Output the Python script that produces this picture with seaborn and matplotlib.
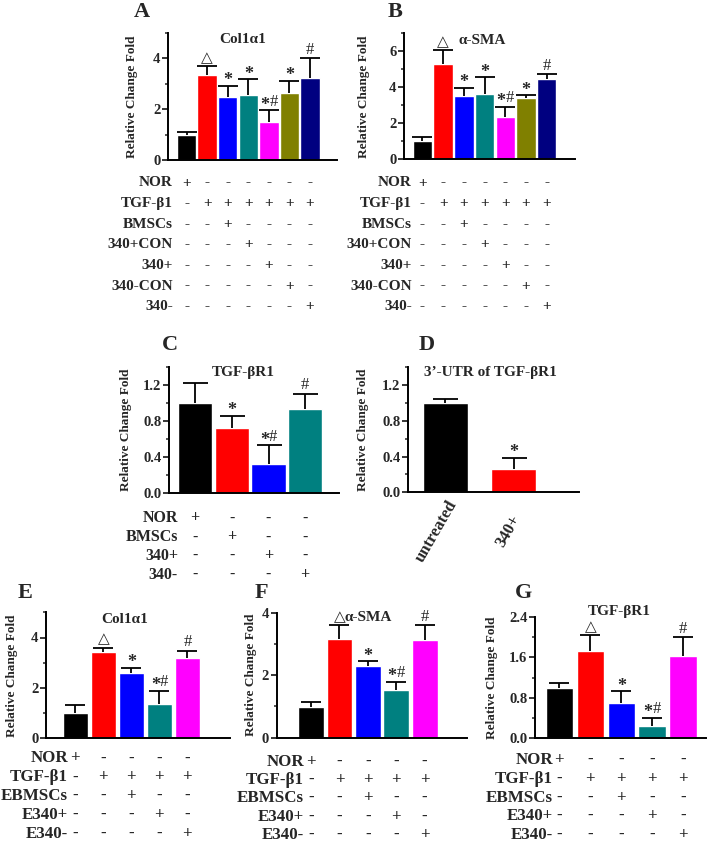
import numpy as np
import matplotlib
matplotlib.use("Agg")
import matplotlib.pyplot as plt
import seaborn as sns
from matplotlib.ticker import MultipleLocator
from matplotlib.transforms import blended_transform_factory

# ---- data ----
colors7 = ["#000000", "#ff0000", "#0000ff", "#008080", "#ff00ff", "#808000", "#000080"]

a_vals = [1.0, 3.36, 2.49, 2.57, 1.51, 2.64, 3.24]
a_errs = [0.12, 0.33, 0.44, 0.60, 0.45, 0.48, 0.76]
b_vals = [0.99, 5.30, 3.52, 3.61, 2.34, 3.39, 4.45]
b_errs = [0.26, 0.75, 0.45, 0.94, 0.58, 0.18, 0.27]
ab_marks = ["", "\u25b3", "*", "*", "*#", "*", "#"]
ab_rows = ["NOR", "TGF-\u03b21", "BMSCs", "340+CON", "340+", "340-CON", "340-"]
ab_table = [
    "+------",
    "-++++++",
    "--+----",
    "---+---",
    "----+--",
    "-----+-",
    "------+",
]

c_vals = [1.0, 0.717, 0.32, 0.94]
c_errs = [0.23, 0.14, 0.21, 0.16]
c_marks = ["", "*", "*#", "#"]
c_rows = ["NOR", "BMSCs", "340+", "340-"]
c_table = ["+---", "-+--", "--+-", "---+"]

d_labels = ["untreated", "340+"]
d_vals = [1.0, 0.26]
d_errs = [0.04, 0.125]
d_marks = ["", "*"]

e_vals = [1.0, 3.44, 2.60, 1.36, 3.17]
e_errs = [0.33, 0.16, 0.20, 0.53, 0.29]
f_vals = [0.98, 3.15, 2.29, 1.52, 3.12]
f_errs = [0.17, 0.45, 0.16, 0.27, 0.48]
g_vals = [0.985, 1.72, 0.69, 0.23, 1.63]
g_errs = [0.115, 0.32, 0.24, 0.17, 0.37]
efg_marks = ["", "\u25b3", "*", "*#", "#"]
efg_rows = ["NOR", "TGF-\u03b21", "EBMSCs", "E340+", "E340-"]
efg_table = ["+----", "-++++", "--+--", "---+-", "----+"]

# ---- figure ----
sns.set_style("ticks")
plt.rcParams["font.family"] = ["Liberation Serif", "DejaVu Sans"]
plt.rcParams["font.weight"] = "bold"

W, H = 708, 852
fig = plt.figure(figsize=(W / 100, H / 100), dpi=100)
SERIF = ["Liberation Serif", "DejaVu Sans"]


def px_axes(left, right, top, bottom):
    return fig.add_axes([left / W, 1 - bottom / H, (right - left) / W, (bottom - top) / H])


def mark(ax, sym, x, y, dx=0):
    if sym == "\u25b3":
        ax.annotate(sym, (x, y), xytext=(dx, 1), textcoords="offset points",
                    ha="center", va="bottom", fontsize=11, family=["DejaVu Sans"],
                    fontweight="normal")
    elif sym == "*":
        ax.annotate(sym, (x, y), xytext=(dx, -2.5), textcoords="offset points",
                    ha="center", va="bottom", fontsize=13, family=SERIF, fontweight="bold")
    else:
        ax.annotate(sym, (x, y), xytext=(dx, 0.5), textcoords="offset points",
                    ha="center", va="bottom", fontsize=12, family=SERIF, fontweight="normal")


def panel(box, vals, errs, cols, width, xlim, ylim, major, minor, fmt, title, title_xy,
          marks, ylab_x, capsize):
    ax = px_axes(*box)
    n = len(vals)
    sns.barplot(x=list(range(n)), y=vals, hue=list(range(n)), palette=cols[:n],
                legend=False, saturation=1, width=width, errorbar=None, ax=ax)
    # one-sided (upper) error bars
    _, caps, _ = ax.errorbar(range(n), vals, yerr=[np.zeros(n), errs], fmt="none",
                             ecolor="black", elinewidth=1.3, capsize=capsize, capthick=1.3)
    caps[0].set_visible(False)
    ax.set_xlim(*xlim)
    ax.set_ylim(*ylim)
    ax.yaxis.set_major_locator(MultipleLocator(major))
    ax.yaxis.set_minor_locator(MultipleLocator(minor))
    ax.yaxis.set_major_formatter(fmt)
    ax.set_xticks([])
    ax.set_xlabel("")
    for s in ["top", "right"]:
        ax.spines[s].set_visible(False)
    for s in ["left", "bottom"]:
        ax.spines[s].set_linewidth(1.4)
        ax.spines[s].set_color("black")
    ax.tick_params(axis="y", which="major", length=4.5, width=1.3, labelsize=10.5, pad=1)
    ax.tick_params(axis="y", which="minor", length=2.5, width=1.1)
    for lab in ax.get_yticklabels():
        lab.set_fontweight("bold")
    ax.set_ylabel("Relative Change Fold", fontsize=9.5, fontweight="bold")
    ax.yaxis.set_label_coords(ylab_x, 0.5)
    ax.text(title_xy[0], title_xy[1], title, transform=ax.transAxes, ha="center",
            va="center", fontsize=11, fontweight="bold", family=SERIF)
    for i, m in enumerate(marks):
        top = vals[i] + errs[i]
        if m == "*#":
            mark(ax, "*", i, top, dx=-3)
            mark(ax, "#", i, top, dx=3.5)
        elif m:
            mark(ax, m, i, top)
    return ax


def table(ax, rows, table_rows, label_x, first_y, step, fs=11):
    tr = blended_transform_factory(ax.transData, fig.transFigure)
    for r, (name, sig) in enumerate(zip(rows, table_rows)):
        y = 1 - (first_y + r * step) / H
        fig.text(label_x / W, y, name, ha="right", va="center", fontsize=fs,
                 fontweight="bold", family=SERIF)
        for i, ch in enumerate(sig):
            ax.text(i, y, ch, transform=tr, ha="center", va="center", fontsize=fs,
                    fontweight="bold", family=SERIF)


def fmt_int(v, p):
    return f"{v:.0f}"


def fmt_1(v, p):
    return f"{v:.1f}"


# A
axA = panel((168, 337, 33, 160), a_vals, a_errs, colors7, 0.94, (-0.9, 7.31), (0, 5),
            2, 1, fmt_int, "Col1\u03b11", (0.44, 0.945), ab_marks, -0.18, 7)
table(axA, ab_rows, ab_table, 173, 183, 20.6)
# B
axB = panel((404, 575, 33.3, 159.3), b_vals, b_errs, colors7, 0.94, (-0.89, 7.37), (0, 7),
            2, 1, fmt_int, "\u03b1-SMA", (0.46, 0.945), ab_marks, -0.2, 7)
table(axB, ab_rows, ab_table, 412, 183, 20.6)
# C
axC = panel((169, 339, 367.3, 492.7), c_vals, c_errs, colors7, 0.93, (-0.71, 3.92), (0, 1.4),
            0.4, 0.2, fmt_1, "TGF-\u03b2R1", (0.435, 0.955), c_marks, -0.22, 9)
table(axC, c_rows, c_table, 178, 518.5, 18.9, fs=11.5)
# D
axD = panel((408, 579, 367, 492.3), d_vals, d_errs, colors7, 0.66, (-0.55, 1.96), (0, 1.4),
            0.4, 0.2, fmt_1, "3\u2019-UTR of TGF-\u03b2R1", (0.48, 0.955), d_marks, -0.23, 9)
trD = blended_transform_factory(axD.transData, fig.transFigure)
for i, lab in enumerate(d_labels):
    axD.text(i - 0.13 + 0.05 * i, 1 - 531 / H, lab, transform=trD, rotation=60,
             ha="center", va="center", fontsize=12, fontweight="bold", family=SERIF)
# E
axE = panel((46, 230, 612.3, 738.3), e_vals, e_errs, colors7, 0.9, (-1.05, 5.52), (0, 5),
            2, 1, fmt_int, "Col1\u03b11", (0.43, 0.94), efg_marks, -0.15, 7)
table(axE, efg_rows, efg_table, 68, 758.5, 18.9, fs=12.2)
# F
axF = panel((276.7, 466.7, 612.7, 737.7), f_vals, f_errs, colors7, 0.91, (-1.21, 5.48), (0, 4),
            2, 1, fmt_int, "\u03b1-SMA", (0.48, 0.96), efg_marks, -0.105, 7)
table(axF, efg_rows, efg_table, 304, 761.5, 18.4, fs=12.2)
# G
axG = panel((535, 706, 617.3, 737.7), g_vals, g_errs, colors7, 0.89, (-0.79, 4.74), (0, 2.4),
            0.8, 0.4, fmt_1, "TGF-\u03b2R1", (0.49, 1.05), efg_marks, -0.216, 7)
table(axG, efg_rows, efg_table, 553, 760, 18.75, fs=12.2)

# panel letters
for letter, (x, y) in {"A": (141.7, 12), "B": (395, 12), "C": (170, 345), "D": (426.7, 345),
                       "E": (25, 593), "F": (261.7, 593), "G": (523.3, 593)}.items():
    fig.text(x / W, 1 - y / H, letter, ha="center", va="center", fontsize=16,
             fontweight="bold", family=SERIF)

fig.savefig("out.png", dpi=100)
